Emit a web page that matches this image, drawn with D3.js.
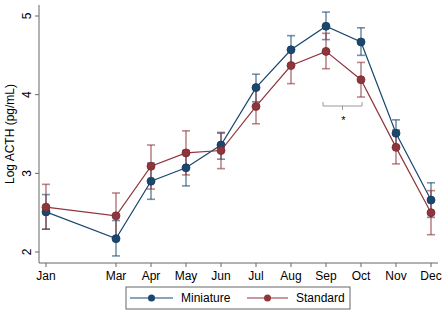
<!DOCTYPE html>
<html>
<head>
<meta charset="utf-8">
<script src="https://cdn.jsdelivr.net/npm/d3@7"></script>
<style>
  body { margin: 0; background: #fff; }
  text { font-family: "Liberation Sans", Arial, sans-serif; }
</style>
</head>
<body>
<svg id="svg" width="446" height="313"></svg>
<script>
const months = [1, 3, 4, 5, 6, 7, 8, 9, 10, 11, 12]
const monthLabels = ['Jan', 'Mar', 'Apr', 'May', 'Jun', 'Jul', 'Aug', 'Sep', 'Oct', 'Nov', 'Dec']
const yTicks = [2, 3, 4, 5]

const miniMean = [2.51, 2.17, 2.90, 3.07, 3.36, 4.09, 4.57, 4.87, 4.67, 3.51, 2.66]
const miniLow  = [2.29, 1.95, 2.67, 2.84, 3.18, 3.91, 4.39, 4.70, 4.50, 3.34, 2.44]
const miniHigh = [2.73, 2.40, 3.13, 3.29, 3.52, 4.26, 4.75, 5.05, 4.85, 3.68, 2.88]

const stdMean = [2.57, 2.46, 3.09, 3.26, 3.29, 3.85, 4.37, 4.55, 4.19, 3.33, 2.50]
const stdLow  = [2.29, 2.18, 2.80, 2.98, 3.06, 3.63, 4.14, 4.33, 3.97, 3.12, 2.22]
const stdHigh = [2.86, 2.75, 3.36, 3.54, 3.51, 4.07, 4.58, 4.78, 4.41, 3.55, 2.78]

const series = [
  { name: 'Miniature', color: '#1a476f', mean: miniMean, low: miniLow, high: miniHigh },
  { name: 'Standard', color: '#90353b', mean: stdMean, low: stdLow, high: stdHigh }
]

const svg = d3.select('#svg')

const x = d3.scaleLinear().domain([1, 12]).range([46, 431])
const y = d3.scaleLinear().domain([2, 5]).range([252, 16])

// axes (Stata style: plain lines, outward ticks)
const axisColor = '#666'
svg.append('line')
  .attr('x1', 39).attr('x2', 39)
  .attr('y1', 5).attr('y2', 263)
  .attr('stroke', axisColor)
svg.append('line')
  .attr('x1', 39).attr('x2', 438)
  .attr('y1', 263).attr('y2', 263)
  .attr('stroke', axisColor)

yTicks.forEach(t => {
  svg.append('line')
    .attr('x1', 35).attr('x2', 39)
    .attr('y1', y(t)).attr('y2', y(t))
    .attr('stroke', axisColor)
  svg.append('text')
    .attr('transform', `translate(31,${y(t)}) rotate(-90)`)
    .attr('text-anchor', 'middle')
    .attr('font-size', 12)
    .text(t)
})

months.forEach((m, i) => {
  svg.append('line')
    .attr('x1', x(m)).attr('x2', x(m))
    .attr('y1', 263).attr('y2', 267)
    .attr('stroke', axisColor)
  svg.append('text')
    .attr('x', x(m)).attr('y', 280)
    .attr('text-anchor', 'middle')
    .attr('font-size', 12)
    .text(monthLabels[i])
})

svg.append('text')
  .attr('transform', `translate(14,134) rotate(-90)`)
  .attr('text-anchor', 'middle')
  .attr('font-size', 12)
  .text('Log ACTH (pg/mL)')

// error bars
series.forEach(s => {
  const g = svg.append('g').attr('stroke', s.color).attr('stroke-opacity', 0.6).attr('stroke-width', 1.6)
  months.forEach((m, i) => {
    g.append('line')
      .attr('x1', x(m)).attr('x2', x(m))
      .attr('y1', y(s.low[i])).attr('y2', y(s.high[i]))
    ;[s.low[i], s.high[i]].forEach(v => {
      g.append('line')
        .attr('x1', x(m) - 4).attr('x2', x(m) + 4)
        .attr('y1', y(v)).attr('y2', y(v))
    })
  })
})

// lines + markers
const lineGen = d3.line()
  .x((d, i) => x(months[i]))
  .y(d => y(d))

series.forEach(s => {
  svg.append('path')
    .attr('d', lineGen(s.mean))
    .attr('stroke', s.color)
    .attr('stroke-width', 1.2)
    .attr('fill', 'none')
  svg.append('g').selectAll('circle')
    .data(s.mean)
    .join('circle')
    .attr('cx', (d, i) => x(months[i]))
    .attr('cy', d => y(d))
    .attr('r', 4)
    .attr('fill', s.color)
    .attr('stroke', d3.color(s.color).darker(0.6))
    .attr('stroke-width', 0.8)
})

// significance bracket Sep-Oct
const by = 106
svg.append('path')
  .attr('d', `M${x(9) - 3},${by - 4} L${x(9) - 3},${by} L${x(10) + 1},${by} L${x(10) + 1},${by - 4} M${(x(9) + x(10)) / 2 - 1},${by} L${(x(9) + x(10)) / 2 - 1},${by + 4}`)
  .attr('stroke', '#999')
  .attr('fill', 'none')
svg.append('text')
  .attr('x', (x(9) + x(10)) / 2).attr('y', 124)
  .attr('text-anchor', 'middle')
  .attr('font-size', 11)
  .text('*')

// legend
svg.append('rect')
  .attr('x', 126).attr('y', 287)
  .attr('width', 224).attr('height', 22)
  .attr('fill', '#fff')
  .attr('stroke', '#666')

const legendPos = [{ x1: 130, x2: 173, tx: 181 }, { x1: 247, x2: 288, tx: 296 }]
series.forEach((s, i) => {
  const p = legendPos[i]
  svg.append('line')
    .attr('x1', p.x1).attr('x2', p.x2)
    .attr('y1', 298).attr('y2', 298)
    .attr('stroke', s.color)
    .attr('stroke-width', 1.2)
  svg.append('circle')
    .attr('cx', (p.x1 + p.x2) / 2).attr('cy', 298)
    .attr('r', 3.5)
    .attr('fill', s.color)
  svg.append('text')
    .attr('x', p.tx).attr('y', 302)
    .attr('font-size', 12)
    .text(s.name)
})
</script>
</body>
</html>
